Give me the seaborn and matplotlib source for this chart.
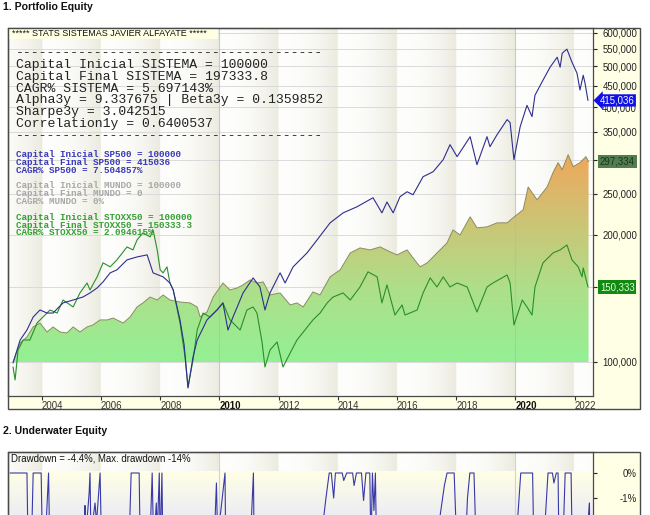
import numpy as np
import matplotlib
matplotlib.use("Agg")
import matplotlib.pyplot as plt
import seaborn as sns
from matplotlib.patches import Rectangle
from matplotlib.colors import LinearSegmentedColormap
from matplotlib.ticker import NullLocator
from matplotlib.transforms import blended_transform_factory

# ---------------- data ----------------
sp_years = [2003.03, 2003.27, 2003.50, 2003.71, 2003.94, 2004.18, 2004.38, 2004.72, 2005.06, 2005.39,
            2005.63, 2005.87, 2006.07, 2006.31, 2006.54, 2006.88, 2007.22, 2007.56, 2007.76, 2008.10,
            2008.33, 2008.44, 2008.67, 2008.81, 2008.94, 2009.11, 2009.25, 2009.58, 2009.92, 2010.12,
            2010.29, 2010.46, 2010.80, 2011.14, 2011.37, 2011.54, 2011.71, 2012.05, 2012.22, 2012.49,
            2012.96, 2013.30, 2013.74, 2014.18, 2014.65, 2015.19, 2015.49, 2015.66, 2015.87, 2016.10,
            2016.34, 2016.54, 2016.88, 2017.22, 2017.56, 2017.79, 2018.03, 2018.47, 2018.70, 2019.04,
            2019.14, 2019.38, 2019.72, 2019.82, 2019.95, 2020.16, 2020.39, 2020.56, 2020.66, 2020.93,
            2021.17, 2021.41, 2021.51, 2021.58, 2021.74, 2021.91, 2022.08, 2022.18, 2022.29, 2022.35,
            2022.45]
sp_values = [99500, 112700, 119000, 127700, 132700, 130500, 130500, 137900, 140100, 142400,
             145600, 149600, 154600, 162400, 165100, 174300, 177100, 179100, 162400, 158900,
             153700, 148000, 125700, 109700, 86800, 102800, 112700, 125700, 132700, 137900,
             119000, 127700, 145600, 158000, 150400, 132700, 145600, 162400, 153700, 167800,
             181000, 194300, 213200, 225100, 232700, 244400, 225100, 238800, 225100, 245700,
             252500, 248400, 274000, 281600, 300600, 326200, 305600, 340700, 292600, 340700,
             322700, 344500, 373900, 367800, 300600, 359800, 404100, 380100, 426800, 463200,
             497200, 525100, 497200, 536700, 548500, 511000, 481200, 439200, 476000, 456000,
             415036]

stoxx_years = [2003.03, 2003.10, 2003.20, 2003.37, 2003.60, 2003.84, 2004.04, 2004.28, 2004.52, 2004.72,
               2005.06, 2005.29, 2005.53, 2005.63, 2005.87, 2006.07, 2006.31, 2006.54, 2006.88, 2007.08,
               2007.22, 2007.42, 2007.66, 2007.76, 2007.90, 2008.00, 2008.10, 2008.23, 2008.33, 2008.44,
               2008.67, 2008.84, 2008.94, 2009.11, 2009.25, 2009.45, 2009.68, 2009.92, 2010.12, 2010.36,
               2010.70, 2010.93, 2011.14, 2011.27, 2011.44, 2011.54, 2011.71, 2011.95, 2012.15, 2012.39,
               2012.62, 2012.89, 2013.16, 2013.40, 2013.64, 2013.84, 2014.18, 2014.42, 2014.75, 2015.02,
               2015.33, 2015.49, 2015.66, 2015.93, 2016.17, 2016.27, 2016.68, 2016.88, 2017.12, 2017.35,
               2017.56, 2017.79, 2018.03, 2018.37, 2018.70, 2019.04, 2019.24, 2019.72, 2019.82, 2019.95,
               2020.23, 2020.39, 2020.56, 2020.66, 2020.93, 2021.27, 2021.51, 2021.74, 2021.91, 2022.12,
               2022.25, 2022.29, 2022.45]
stoxx_values = [97300, 90700, 106700, 112700, 112700, 123600, 127700, 132700, 130500, 140100,
                134900, 145600, 153700, 148000, 158900, 171500, 167800, 174300, 187000, 184000,
                194300, 201900, 197500, 205200, 184000, 165100, 162400, 167800, 153700, 148000,
                123600, 102800, 87300, 101100, 119000, 130500, 127700, 132700, 137900, 125700,
                119000, 132700, 134900, 130500, 111500, 97300, 106700, 111500, 97300, 105000,
                112700, 119000, 125700, 130500, 137900, 142400, 145600, 140100, 150400, 163300,
                158900, 137900, 152100, 129100, 136400, 129100, 132700, 145600, 158000, 150400,
                158900, 150400, 153700, 150400, 131200, 150400, 153700, 160500, 153700, 122300,
                140100, 134900, 129100, 150400, 171500, 181000, 184000, 189000, 174300, 167800,
                158900, 166800, 150333]

sys_years = [2003.03, 2003.27, 2003.50, 2003.71, 2003.94, 2004.18, 2004.38, 2004.62, 2004.85, 2005.06,
             2005.29, 2005.53, 2005.73, 2005.97, 2006.21, 2006.41, 2006.75, 2006.98, 2007.22, 2007.42,
             2007.66, 2007.90, 2008.10, 2008.33, 2008.67, 2009.01, 2009.25, 2009.35, 2009.58, 2009.79,
             2010.12, 2010.36, 2010.60, 2010.80, 2011.04, 2011.27, 2011.48, 2011.71, 2012.05, 2012.39,
             2012.62, 2012.83, 2013.16, 2013.40, 2013.74, 2014.08, 2014.42, 2014.75, 2015.09, 2015.43,
             2015.77, 2016.00, 2016.34, 2016.54, 2016.78, 2017.02, 2017.35, 2017.69, 2017.89, 2018.13,
             2018.47, 2018.70, 2019.04, 2019.38, 2019.72, 2019.92, 2020.26, 2020.43, 2020.73, 2021.07,
             2021.27, 2021.44, 2021.58, 2021.78, 2021.95, 2022.18, 2022.38, 2022.47]
sys_values = [100000, 110900, 114600, 121000, 123600, 117700, 121000, 117700, 117100, 121000,
              117700, 121000, 122300, 125700, 125700, 127000, 123600, 127700, 134900, 137900,
              142400, 140100, 144000, 140100, 138600, 137900, 134900, 127700, 131200, 142400,
              153700, 148000, 149600, 152100, 156300, 153700, 154600, 144000, 145600, 136400,
              137900, 134900, 146400, 144000, 158900, 165100, 181000, 186000, 184000, 187000,
              182000, 179100, 184000, 176200, 167800, 171500, 181000, 191100, 205200, 199600,
              220300, 207500, 208600, 213200, 213200, 219100, 228900, 259100, 241700, 259100,
              280100, 295800, 284700, 308900, 289400, 295800, 305600, 297334]

dd_years = [2002.93, 2003.50, 2003.55, 2003.65, 2003.71, 2003.98, 2004.03, 2004.15, 2004.23, 2004.27,
            2004.40, 2005.00, 2005.40, 2005.46, 2005.49, 2005.60, 2005.63, 2005.66, 2005.80, 2005.85,
            2005.97, 2006.02, 2006.10, 2006.50, 2006.92, 2007.02, 2007.29, 2007.35, 2007.62, 2007.73,
            2007.78, 2007.87, 2007.90, 2007.97, 2008.00, 2008.06, 2008.12, 2008.60, 2009.20, 2009.70,
            2009.85, 2009.90, 2009.94, 2010.05, 2010.19, 2010.23, 2010.60, 2011.00, 2011.15, 2011.19,
            2011.60, 2012.50, 2013.30, 2013.60, 2013.71, 2013.78, 2013.86, 2013.92, 2014.15, 2014.20,
            2014.30, 2014.50, 2014.55, 2014.63, 2014.80, 2014.87, 2014.95, 2015.08, 2015.12, 2015.17,
            2015.22, 2015.27, 2015.32, 2015.50, 2015.77, 2015.85, 2016.20, 2016.44, 2016.60, 2017.30,
            2017.60, 2017.69, 2017.93, 2018.05, 2018.20, 2018.38, 2018.46, 2018.60, 2018.70, 2019.00,
            2019.50, 2019.95, 2020.18, 2020.58, 2020.65, 2020.90, 2021.10, 2021.25, 2021.30, 2021.38,
            2021.44, 2021.48, 2021.60, 2021.68, 2021.88, 2021.93, 2022.20, 2022.50, 2022.52]
dd_values = [0, 0, -4, -3, 0, 0, -3.5, -2, 0, -3,
             -5, -6, -3, -1.3, -2.5, -0.8, 0, -2.5, -1.2, -2,
             0, -3, -6, -7, -4, 0, 0, -5, -4, 0,
             -3, -1.2, -2.5, 0, -3, 0, -6, -10, -14, -6,
             -2, -0.4, -2.5, -1.5, 0, -5, -8, -4, 0, -5,
             -10, -8, -4, -1, 0, 0, -1.0, 0, 0, -0.3,
             0, 0, -0.5, 0, 0, -1.1, 0, 0, -3, 0,
             -1.5, 0, -4, -6, -1.8, -5, -4, -1.8, -4, -3,
             -0.5, 0, 0, -4, -6, -1, 0, 0, -4, -10,
             -6, -4, 0, 0, -5, -4, 0, 0, -0.4, 0,
             0, -4, -3, 0, 0, -4, -6, -1.2, -4.4]

y_ticks = [100000, 150000, 200000, 250000, 300000, 350000, 400000, 450000, 500000, 550000, 600000]
y_hidden = [150000, 300000]          # covered by the value badges in the reference
x_ticks = [2004, 2006, 2008, 2010, 2012, 2014, 2016, 2018, 2020, 2022]
dd_ticks = [0, -1]

stats_lines = ["Capital Inicial SISTEMA = 100000",
               "Capital Final SISTEMA = 197333.8",
               "CAGR% SISTEMA = 5.697143%",
               "Alpha3y = 9.337675 | Beta3y = 0.1359852",
               "Sharpe3y = 3.042515",
               "Correlation1y = 0.6400537"]
sp_lines = ["Capital Inicial SP500 = 100000", "Capital Final SP500 = 415036", "CAGR% SP500 = 7.504857%"]
mundo_lines = ["Capital Inicial MUNDO = 100000", "Capital Final MUNDO = 0", "CAGR% MUNDO = 0%"]
stoxx_lines = ["Capital Inicial STOXX50 = 100000", "Capital Final STOXX50 = 150333.3", "CAGR% STOXX50 = 2.094615%"]

# ---------------- styling ----------------
sns.set_style("white")
plt.rcParams["font.family"] = ["Liberation Sans", "DejaVu Sans"]
MONO = ["Liberation Mono", "DejaVu Sans Mono"]
YEL = "#FFFFE6"
FRAME = "#4a4a4a"
BLUE = "#2E2E90"
GREEN = "#2A8F2A"

W, H = 650, 515
fig = plt.figure(figsize=(W / 100, H / 100), dpi=100)
fig.patch.set_facecolor("white")


def R(x0, y0, x1, y1, **kw):
    r = Rectangle((x0 / W, 1 - y1 / H), (x1 - x0) / W, (y1 - y0) / H, transform=fig.transFigure, **kw)
    fig.add_artist(r)
    return r


def add_axes_px(x0, y0, x1, y1):
    return fig.add_axes([x0 / W, 1 - y1 / H, (x1 - x0) / W, (y1 - y0) / H])


XLIM = (2002.86, 2022.62)
YLIM = (83100, 615500)
DDLIM = (-1.68, 0.84)


def stripes(a, strength=1.0):
    yrs = np.linspace(XLIM[0], XLIM[1], 800)
    p = ((yrs - 2002) % 2) / 2
    i = (p ** 2.2) * strength
    white = np.array([0.995, 0.995, 0.99])
    beige = np.array([0.925, 0.92, 0.875])
    img = white[None, :] * (1 - i[:, None]) + beige[None, :] * i[:, None]
    a.imshow(img[None, :, :], extent=[0, 1, 0, 1], transform=a.transAxes, aspect="auto",
             zorder=-10, interpolation="bilinear")


# ---------------- main panel ----------------
R(593, 28, 640, 409, facecolor=YEL, edgecolor="none", zorder=-1)
R(8, 396, 593, 409, facecolor=YEL, edgecolor="none", zorder=-1)

ax = add_axes_px(8, 28, 593, 396)
ax.set_yscale("log")
ax.autoscale(False)
ax.set_xlim(*XLIM)
ax.set_ylim(*YLIM)
stripes(ax)

poly = ax.fill_between(sys_years, 100000, sys_values, facecolor="none", edgecolor="none")
cmap = LinearSegmentedColormap.from_list(
    "sys", [(0, "#94F094"), (0.092, "#94F094"), (0.29, "#AEDF8A"), (0.45, "#C8C878"),
            (0.59, "#E2B266"), (0.66, "#F2A555"), (1, "#F2A555")])
grad = np.linspace(0, 1, 256)[:, None]
im = ax.imshow(grad, cmap=cmap, extent=[0, 1, 0, 1], transform=ax.transAxes, origin="lower",
               aspect="auto", zorder=1, interpolation="bilinear")
im.set_clip_path(poly.get_paths()[0], ax.transData)

sns.lineplot(x=sys_years, y=sys_values, ax=ax, color="#8C8C62", linewidth=0.7, estimator=None, zorder=2)
for yr in (2010, 2020):
    ax.axvline(yr, color="#B8B8B8", lw=0.8, alpha=0.7, zorder=1.5)
sns.lineplot(x=stoxx_years, y=stoxx_values, ax=ax, color=GREEN, linewidth=0.8, estimator=None, zorder=3)
sns.lineplot(x=sp_years, y=sp_values, ax=ax, color=BLUE, linewidth=0.8, estimator=None, zorder=4)

ax.set_axisbelow(True)
ax.grid(axis="y", color="#DADADA", lw=0.7)
ax.grid(axis="x", visible=False)
ax.yaxis.tick_right()
ax.set_yticks(y_ticks)
ax.set_yticklabels(["" if v in y_hidden else f"{v:,}" for v in y_ticks], ha="right")
ax.yaxis.set_minor_locator(NullLocator())
ax.tick_params(axis="y", which="major", direction="out", length=3, width=0.8, pad=28.7,
               labelsize=6.9, colors="#222222", right=True, left=False)
ax.set_xticks(x_ticks)
ax.set_xticklabels([str(v) for v in x_ticks], ha="left")
ax.tick_params(axis="x", direction="out", length=3, width=0.8, pad=0.5, labelsize=6.9,
               colors="#333333", bottom=True)
for lab in ax.get_xticklabels():
    if lab.get_text() in ("2010", "2020"):
        lab.set_fontweight("bold")
        lab.set_color("#111111")
ax.set_xlabel("")
ax.set_ylabel("")
ax.set_xlim(*XLIM)
ax.set_ylim(*YLIM)
for s in ax.spines.values():
    s.set_color(FRAME)
    s.set_linewidth(0.9)

# value badges
tr = blended_transform_factory(ax.transAxes, ax.transData)
ax.text(1.012, sp_values[-1], f"{sp_values[-1]:,}", transform=tr, fontsize=6.9, color="white",
        va="center", ha="left", clip_on=False, zorder=6,
        bbox=dict(boxstyle="larrow,pad=0.12", facecolor="#1010E8", edgecolor="none"))
ax.text(1.012, sys_values[-1], f"{sys_values[-1]:,}", transform=tr, fontsize=6.9, color="#203020",
        va="center", ha="left", clip_on=False, zorder=6,
        bbox=dict(boxstyle="square,pad=0.18", facecolor="#4F7F4F", edgecolor="none"))
ax.text(1.012, stoxx_values[-1], f"{stoxx_values[-1]:,}", transform=tr, fontsize=6.9, color="#D8FFD8",
        va="center", ha="left", clip_on=False, zorder=6,
        bbox=dict(boxstyle="square,pad=0.18", facecolor="#128A12", edgecolor="none"))

R(8, 28, 640, 409, fill=False, edgecolor=FRAME, linewidth=1.0, zorder=10)


# text blocks
def T(x, y, s, **kw):
    fig.text(x / W, 1 - y / H, s, **kw)


T(3, 7.5, "1. Portfolio Equity", fontsize=7.6, fontweight="bold", va="center", ha="left", color="#111111")
R(9, 29, 218, 39, facecolor="#FFFFE4", edgecolor="none", zorder=2)
T(12, 33.5, "***** STATS SISTEMAS JAVIER ALFAYATE *****", fontsize=6.5, va="center", ha="left",
  color="#111111", zorder=3)
T(16, 55.8, "-" * 39, family=MONO, fontsize=9.45, va="baseline", ha="left", color="#222222")
for k, s in enumerate(stats_lines):
    T(16, 67.8 + 11.85 * k, s, family=MONO, fontsize=9.45, va="baseline", ha="left", color="#222222")
T(16, 139.0, "-" * 39, family=MONO, fontsize=9.45, va="baseline", ha="left", color="#222222")
for base, lines, col in ((157.0, sp_lines, "#3A3AB8"), (188.0, mundo_lines, "#A8A8A8"),
                         (219.8, stoxx_lines, "#35A035")):
    for k, s in enumerate(lines):
        T(16, base + 7.75 * k, s, family=MONO, fontsize=6.65, fontweight="bold", va="baseline",
          ha="left", color=col)

# ---------------- underwater panel ----------------
T(3, 431.5, "2. Underwater Equity", fontsize=7.6, fontweight="bold", va="center", ha="left", color="#111111")
R(593, 452, 640, 530, facecolor=YEL, edgecolor="none", zorder=-1)
ax2 = add_axes_px(8, 452, 593, 515)
ax2.autoscale(False)
ax2.set_xlim(*XLIM)
ax2.set_ylim(*DDLIM)
stripes(ax2)
ygrad = np.linspace(0, 1, 64)[:, None]
cm2 = LinearSegmentedColormap.from_list("uw", ["#EDEDF3", "#FFFFE6"])
ax2.imshow(ygrad, cmap=cm2, extent=[0, 1, 0, 0.687], transform=ax2.transAxes, origin="lower",
           aspect="auto", zorder=-5)
for yr in (2010, 2020):
    ax2.axvline(yr, color="#C4C4C4", lw=0.8, alpha=0.7, zorder=1)
sns.lineplot(x=dd_years, y=dd_values, ax=ax2, color="#3838A8", linewidth=0.8, estimator=None, zorder=3)
ax2.set_xlabel("")
ax2.set_ylabel("")
ax2.yaxis.tick_right()
ax2.set_yticks(dd_ticks)
ax2.set_yticklabels([f"{v}%" for v in dd_ticks], ha="right")
ax2.tick_params(axis="y", direction="out", length=3, width=0.8, pad=28.7, labelsize=6.9,
                colors="#222222", right=True, left=False)
ax2.set_xticks([])
ax2.set_xlim(*XLIM)
ax2.set_ylim(*DDLIM)
for s in ax2.spines.values():
    s.set_color(FRAME)
    s.set_linewidth(0.9)
ax2.spines["bottom"].set_visible(False)
R(8, 452, 640, 530, fill=False, edgecolor=FRAME, linewidth=1.0, zorder=10)
T(11, 458.3, "Drawdown = -4.4%, Max. drawdown -14%", fontsize=6.9, va="center", ha="left", color="#111111")

fig.savefig("out.png", dpi=100)
